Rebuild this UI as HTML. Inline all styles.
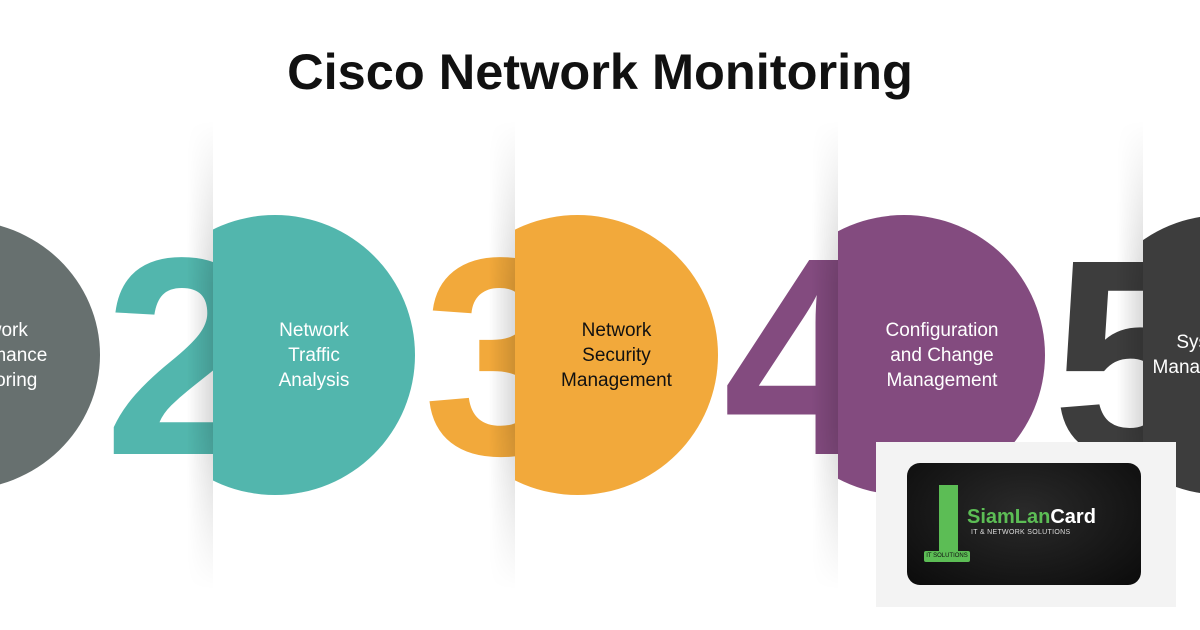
<!DOCTYPE html>
<html><head><meta charset="utf-8"><style>
body{margin:0;width:1200px;height:630px;overflow:hidden;background:#fff;font-family:"Liberation Sans",sans-serif;position:relative}
.t{position:absolute;left:0;width:1200px;top:42px;text-align:center;font-weight:bold;font-size:50.5px;color:#111;z-index:50}
.p{position:absolute;top:0;height:630px;width:1400px;background:#fff;overflow:hidden}
.sh{position:absolute;top:120px;height:470px;width:26px;background:linear-gradient(to right,rgba(0,0,0,0),rgba(0,0,0,.15));
 -webkit-mask-image:linear-gradient(to bottom,transparent,#000 35%,#000 65%,transparent);mask-image:linear-gradient(to bottom,transparent,#000 35%,#000 65%,transparent)}
.c{position:absolute;border-radius:50%;display:flex;align-items:center;justify-content:center;text-align:center;color:#fff;font-size:19px;line-height:25px;white-space:nowrap}
.d{position:absolute;font-weight:bold;font-size:282px;line-height:1}
</style></head><body>
<div class="t">Cisco Network Monitoring</div>
<div class="p" style="left:0;top:0;background:transparent">
 <div class="c" style="left:-180px;top:220px;width:280px;height:270px;background:#67706f"><span style="position:relative;left:33px">Network<br>Performance<br>Monitoring</span></div>
 <div class="d" style="left:104px;top:216px;color:#52b6ad">2</div>
</div>
<div class="sh" style="left:187px"></div>
<div class="p" style="left:213px">
 <div class="c" style="left:-78px;top:215px;width:280px;height:280px;background:#52b6ad"><span style="position:relative;left:39px">Network<br>Traffic<br>Analysis</span></div>
 <div class="d" style="left:210px;top:216px;color:#f2a93b">3</div>
</div>
<div class="sh" style="left:489px"></div>
<div class="p" style="left:515px">
 <div class="c" style="left:-78px;top:215px;width:281px;height:280px;background:#f2a93b;color:#111"><span style="position:relative;left:39px">Network<br>Security<br>Management</span></div>
 <div class="d" style="left:208px;top:216px;color:#834b7f">4</div>
</div>
<div class="sh" style="left:812px"></div>
<div class="p" style="left:838px">
 <div class="c" style="left:-75px;top:215px;width:282px;height:280px;background:#834b7f"><span style="position:relative;left:38px">Configuration<br>and Change<br>Management</span></div>
 <div class="d" style="left:214px;top:218px;color:#3d3d3d">5</div>
</div>
<div class="sh" style="left:1117px"></div>
<div class="p" style="left:1143px">
 <div class="c" style="left:-60px;top:215px;width:280px;height:280px;background:#3d3d3d"><span style="position:relative;left:-15px">System<br>Management</span></div>
</div>
<div style="position:absolute;left:876px;top:442px;width:300px;height:165px;background:#f3f3f3;z-index:40">
 <div style="position:absolute;left:31px;top:21px;width:234px;height:122px;border-radius:13px;background:radial-gradient(ellipse at 50% 40%,#2a2a2a,#0b0b0b)">
  <div style="position:absolute;left:32px;top:22px;width:19px;height:68px;background:#5cbd55"></div>
  <div style="position:absolute;left:17px;top:88px;width:46px;height:11px;border-radius:2px;background:#5cbd55;color:#111;font-size:6px;line-height:11px;text-align:center">IT SOLUTIONS</div>
  <div style="position:absolute;left:60px;top:43px;font-size:20px;font-weight:bold;color:#5cbd55">SiamLan<span style="color:#fff">Card</span></div>
  <div style="position:absolute;left:64px;top:66px;font-size:7px;color:#ddd;letter-spacing:.3px">IT &amp; NETWORK SOLUTIONS</div>
 </div>
</div>
</body></html>
